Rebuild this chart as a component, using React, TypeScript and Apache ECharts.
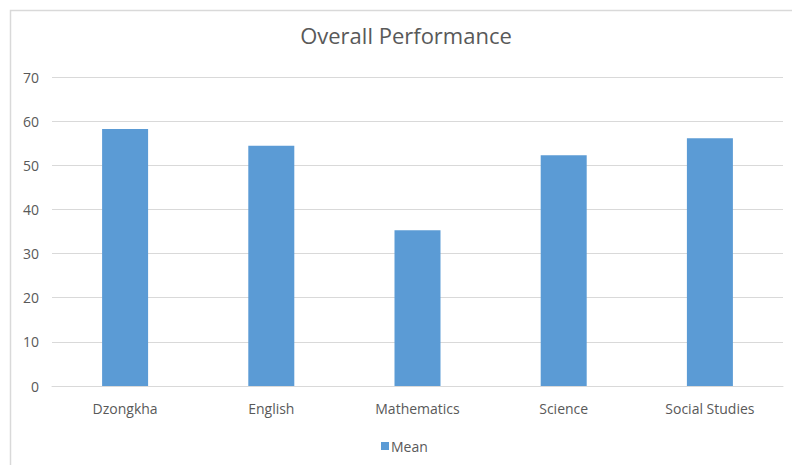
import React, { useEffect, useRef } from "react";
import * as echarts from "echarts";

const categories = ["Dzongkha", "English", "Mathematics", "Science", "Social Studies"];
const meanValues = [58.2, 54.4, 35.3, 52.3, 56.1];
const seriesName = "Mean";
const titleText = "Overall Performance";

export default function App() {
  const ref = useRef<HTMLDivElement>(null);
  useEffect(() => {
    if (!ref.current) return;
    const chart = echarts.init(ref.current, undefined, { renderer: "svg" });
    const font = "'Open Sans', sans-serif";
    chart.setOption({
      animation: false,
      backgroundColor: "#ffffff",
      textStyle: { fontFamily: font },
      title: {
        text: titleText,
        left: 406,
        textAlign: "center",
        top: 24,
        padding: 0,
        textStyle: { fontFamily: font, fontSize: 22, fontWeight: "normal", color: "#595959" },
      },
      graphic: [
        {
          type: "rect",
          shape: { x: 10.5, y: 10.5, width: 800, height: 500 },
          style: { fill: "none", stroke: "#d9d9d9", lineWidth: 1.5 },
          silent: true,
        },
      ],
      legend: {
        data: [seriesName],
        left: 376,
        top: 434,
        itemWidth: 8,
        itemHeight: 8,
        icon: "rect",
        textStyle: { fontFamily: font, fontSize: 14, color: "#595959", padding: [0, 0, 0, -3] },
      },
      grid: { left: 52, right: 9, top: 77, bottom: 79, containLabel: false },
      xAxis: {
        type: "category",
        data: categories,
        axisLine: { show: true, lineStyle: { color: "#d9d9d9", width: 1 } },
        axisTick: { show: false },
        axisLabel: { color: "#595959", fontSize: 14, margin: 15, fontFamily: font },
      },
      yAxis: {
        type: "value",
        min: 0,
        max: 70,
        interval: 10,
        axisLine: { show: false },
        axisTick: { show: false },
        splitLine: { lineStyle: { color: "#d9d9d9", width: 1 } },
        axisLabel: { color: "#595959", fontSize: 14, margin: 13, fontFamily: font },
      },
      series: [
        {
          name: seriesName,
          type: "bar",
          data: meanValues,
          barWidth: 46,
          itemStyle: { color: "#5b9bd5" },
        },
      ],
    });
    return () => chart.dispose();
  }, []);
  return (
    <div
      ref={ref}
      style={{ position: "fixed", left: 0, top: 0, width: 792, height: 465 }}
    />
  );
}
